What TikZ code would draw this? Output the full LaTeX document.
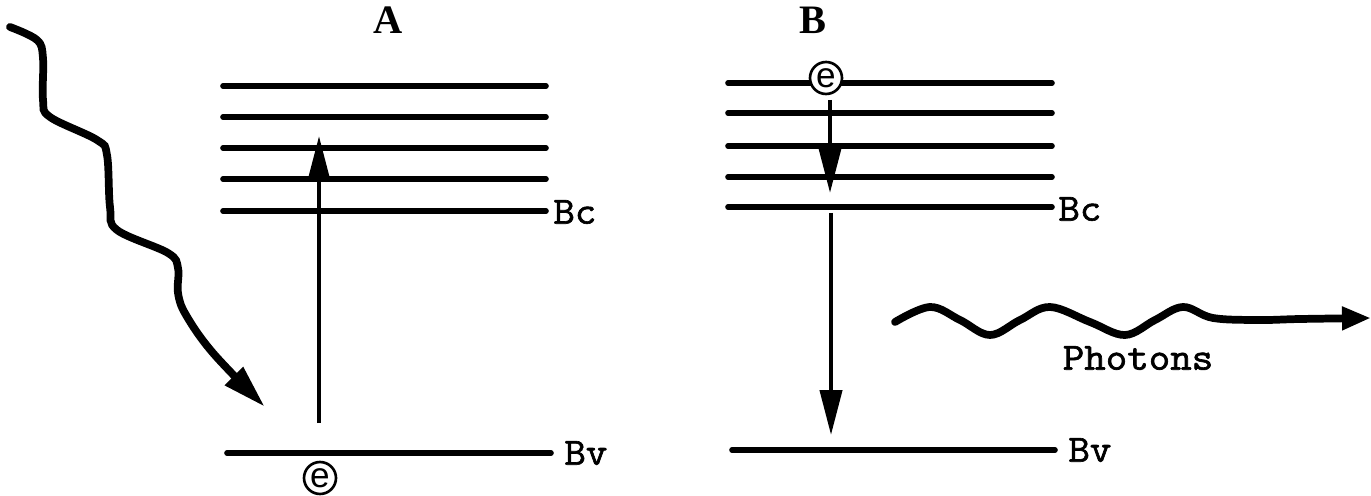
\documentclass[tikz,border=0pt]{standalone}
\usepackage{fontspec}
\setmainfont{Liberation Serif}
\newfontfamily\monofnt{Latin Modern Mono}[FakeBold=1.6]
\newfontfamily\sansfnt{Liberation Sans}
\usetikzlibrary{arrows.meta}
\newcommand{\mytxt}[1]{\scalebox{1.08}[1]{#1}}
\begin{document}
\begin{tikzpicture}[x=0.02cm,y=-0.02cm,
  level/.style={line width=3.2pt, line cap=round},
  trans/.style={line width=2.4pt, -{Triangle[length=0.9cm,width=0.44cm]}},
  wave/.style={line width=4.4pt, line cap=round},
  lab/.style={font=\monofnt\fontsize{22}{22}\selectfont, inner sep=0pt, anchor=west},
  title/.style={font=\bfseries\fontsize{23}{23}\selectfont, inner sep=0pt},
  elec/.style={circle, draw, line width=1.5pt, minimum size=0.64cm, inner sep=0pt, font=\sansfnt\fontsize{20}{20}\selectfont, fill=white}
]
\useasboundingbox (0,0) rectangle (1371,496);

% titles
\node[title] (tA) at (388,20) {A};
\node[title] (tB) at (813,20) {B};

% Panel A levels
\foreach \y [count=\i] in {86,117,148,179,211} {
  \coordinate (aL\i) at (223,\y);
  \coordinate (aR\i) at (546,\y);
  \draw[level] (aL\i) -- (aR\i);
}
\coordinate (aVL) at (227,453);
\coordinate (aVR) at (551,453);
\draw[level] (aVL) -- (aVR);
\node[lab] (bcA) at (553,212) {\mytxt{Bc}};
\node[lab] (bvA) at (564,453) {\mytxt{Bv}};

% electron A and transition
\node[elec] (eA) at (320,478) {e};
\coordinate (aS) at (319,423);
\coordinate (aT) at (319,136);
\draw[trans] (aS) -- (aT);

% incoming wave
\draw[wave, -{Triangle[length=0.88cm,width=0.48cm]}] plot[smooth, tension=0.6] coordinates {
 (10,27) (37,40) (43,58) (43,100) (50,117) (97,140) (107,155) (110,207) (117,230)
 (168,253) (178,268) (178,293) (186,315) (213,353) (265,407)};

% Panel B levels
\foreach \y [count=\i] in {83,113,146,177,207} {
  \coordinate (bL\i) at (728,\y);
  \coordinate (bR\i) at (1052,\y);
  \draw[level] (bL\i) -- (bR\i);
}
\coordinate (bVL) at (732,450);
\coordinate (bVR) at (1055,450);
\draw[level] (bVL) -- (bVR);
\node[lab] (bcB) at (1058,209) {\mytxt{Bc}};
\node[lab] (bvB) at (1068,450) {\mytxt{Bv}};

\node[elec] (eB) at (826,78) {e};
\coordinate (bS) at (830,100);
\coordinate (bT) at (830,193);
\draw[trans] (bS) -- (bT);
\coordinate (bS2) at (831,213);
\coordinate (bT2) at (831,435);
\draw[trans] (bS2) -- (bT2);

% photons
\draw[wave, -{Triangle[length=0.58cm,width=0.44cm]}] plot[smooth, tension=0.6] coordinates {
 (895,322) (930,307) (960,320) (990,335) (1020,320) (1050,307) (1090,322) (1125,335)
 (1155,320) (1183,307) (1213,318) (1260,320) (1300,319) (1371,318)};
\node[font=\monofnt\fontsize{22}{22}\selectfont, inner sep=0pt] (ph) at (1138,358) {\mytxt{Photons}};
\end{tikzpicture}
\end{document}
